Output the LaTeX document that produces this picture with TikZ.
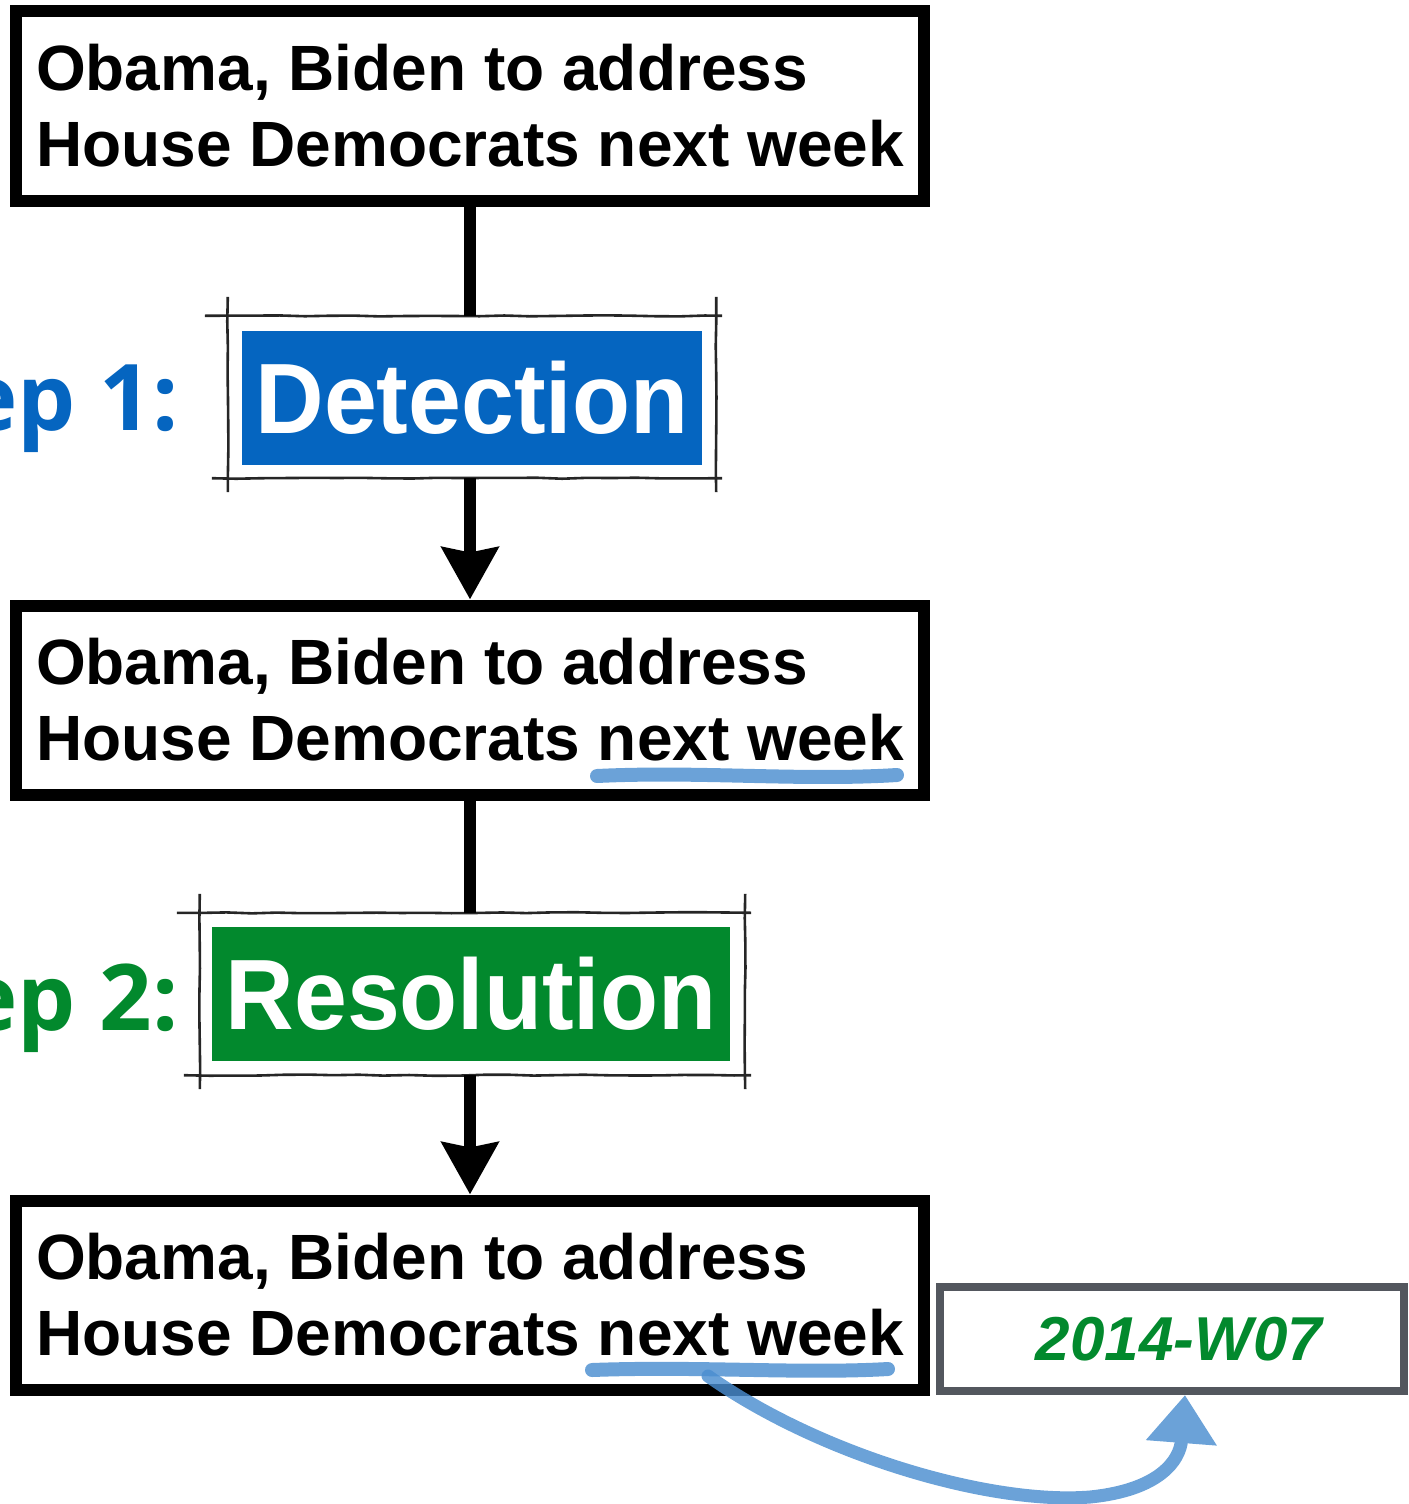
\documentclass[tikz,border=0pt]{standalone}
\usepackage{fontspec}
\setmainfont{Liberation Sans}
\newfontfamily\condfont[FakeStretch=0.95]{Liberation Sans}
\newfontfamily\stepfont{Open Sans}
\usetikzlibrary{arrows.meta,decorations.pathmorphing}
\definecolor{detblue}{HTML}{0565C0}
\definecolor{resgreen}{HTML}{02892D}
\definecolor{markblue}{RGB}{74,141,208}
\definecolor{dategray}{HTML}{53575E}
\tikzset{
  headline/.style={draw, line width=12pt, minimum width=908pt, minimum height=189pt, inner sep=0pt, align=left, font=\fontsize{64}{76}\selectfont\bfseries},
  stepbox/.style={minimum height=134pt, inner sep=0pt, text=white, font=\fontsize{100}{100}\selectfont\condfont\bfseries},
  sketchframe/.style={minimum height=162pt, inner sep=0pt},
  sketch/.style={line width=2.6pt, black!85, decorate, decoration={random steps, segment length=25pt, amplitude=0.6pt}},
  steplabel/.style={anchor=base east, font=\fontsize{92}{92}\selectfont\stepfont\bfseries},
  flow/.style={line width=12pt},
  highlight/.style={markblue, line width=14pt, line cap=round, line join=round}
}
\begin{document}
\begin{tikzpicture}[x=1pt,y=-1pt]
\useasboundingbox (0,0) rectangle (1408,1504);
\clip (0,0) rectangle (1408,1504);

% headlines
\node[headline] (head1) at (470,106) {Obama, Biden to address\\House Democrats next week};
\node[headline] (head2) at (470,700) {Obama, Biden to address\\House Democrats next week};
\node[headline] (head3) at (470,1295) {Obama, Biden to address\\House Democrats next week};

% step 1
\node[sketchframe, minimum width=488pt] (detframe) at (472,397) {};
\node[stepbox, fill=detblue, minimum width=460pt] (detect) at (472,397.5) {Detection};
\node[steplabel, detblue] (step1) at (182,430) {Step 1:};

% step 2
\node[sketchframe, minimum width=545pt] (resframe) at (472.5,994) {};
\node[stepbox, fill=resgreen, minimum width=518pt] (resolve) at (471,993.5) {Resolution};
\node[steplabel, resgreen] (step2) at (182,1030) {Step 2:};

\foreach \f in {detframe,resframe}{
  \draw[sketch] ([xshift=-23pt]\f.north west) -- ([xshift=6pt]\f.north east);
  \draw[sketch] ([xshift=-16pt]\f.south west) -- ([xshift=6pt]\f.south east);
  \draw[sketch] ([yshift=19pt]\f.north west) -- ([yshift=-14pt]\f.south west);
  \draw[sketch] ([yshift=19pt]\f.north east) -- ([yshift=-14pt]\f.south east);
}

% flow
\draw[flow] (head1.south) -- (head1.south |- detframe.north);
\draw[flow, -{Stealth[width=56pt,length=52pt,inset=5pt]}] (head2.north |- detframe.south) -- (head2.north);
\draw[flow] (head2.south) -- (head2.south |- resframe.north);
\draw[flow, -{Stealth[width=56pt,length=52pt,inset=5pt]}] (head3.north |- resframe.south) -- (head3.north);

% time expression
\node[draw=dategray, line width=8pt, minimum width=464pt, minimum height=104pt, inner sep=0pt, text=resgreen, font=\fontsize{62}{62}\selectfont\bfseries\itshape] (date) at (1172,1339) {\hspace*{14pt}2014-W07};

\begin{scope}[opacity=0.82]
\draw[highlight] (597,776) .. controls (700,771) and (800,781) .. (897,775);
\draw[highlight] (592,1370) .. controls (700,1366) and (800,1374) .. (888,1369);
\end{scope}
\coordinate (src) at (708,1376);
\begin{scope}[transparency group, opacity=0.82]
\draw[highlight, line width=13pt, -{Triangle[width=68pt,length=48pt]}] (src) .. controls (820,1455) and (990,1505) .. (1090,1497) .. controls (1160,1490) and (1180,1460) .. ([xshift=13pt]date.south);
\end{scope}
\end{tikzpicture}
\end{document}
